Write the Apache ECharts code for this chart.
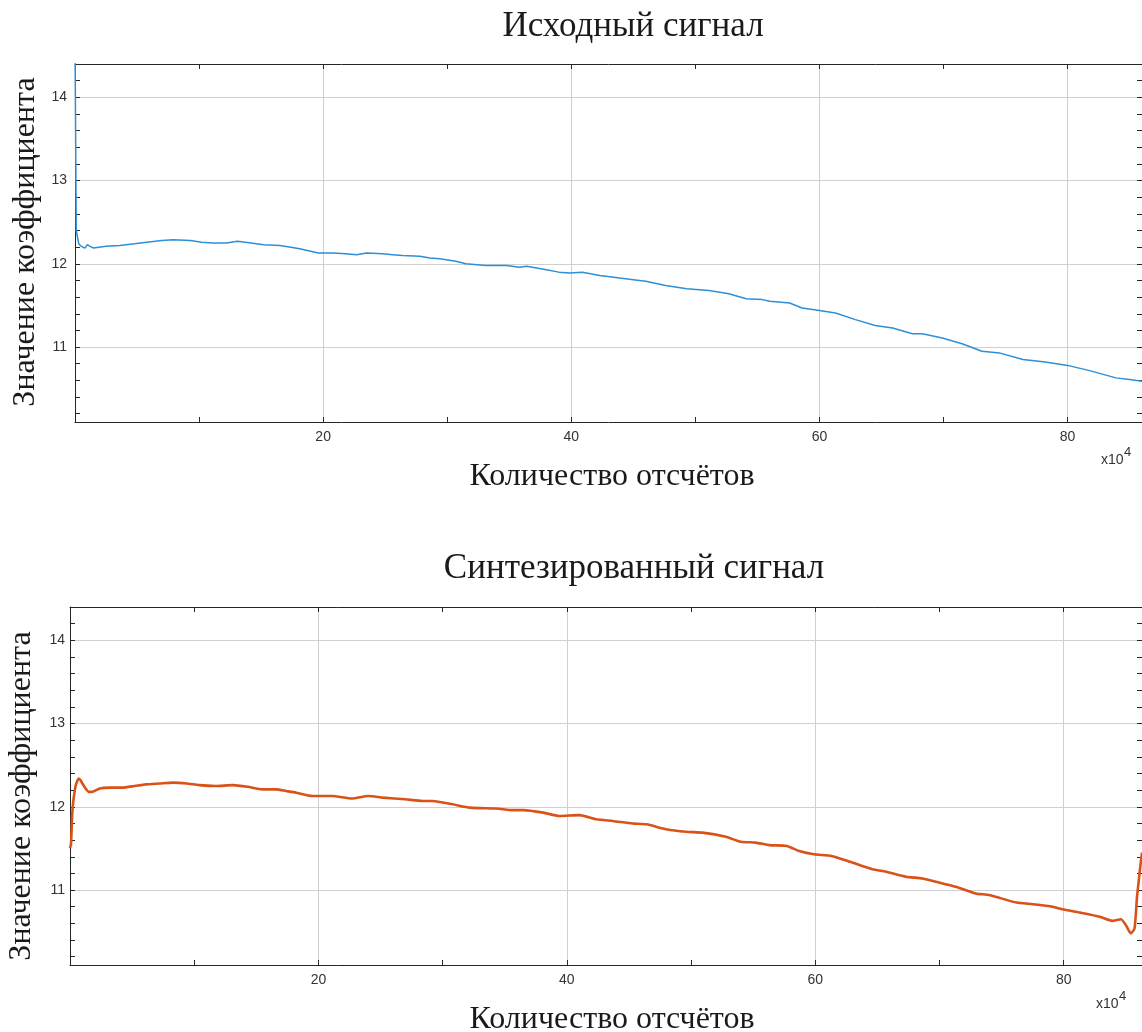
<!DOCTYPE html>
<html>
<head>
<meta charset="utf-8">
<title>Исходный и синтезированный сигнал</title>
<script src="https://cdn.jsdelivr.net/npm/echarts@6/dist/echarts.min.js"></script>
<style>
  html, body { margin: 0; padding: 0; background: #ffffff; }
  #chart { width: 1142px; height: 1032px; }
</style>
</head>
<body>
<div id="chart"></div>
<script>
// Original signal: sample index (x10^4) and coefficient value
const topX = [0, 0.1, 0.3, 0.5, 0.8, 1.0, 1.2, 1.5, 2.5, 3.6, 4.8, 5.8, 7.0, 7.9, 9.3, 10.2, 11.1, 12.2, 13.1, 14.2,
  15.2, 16.5, 17.4, 18.1, 19.0, 19.6, 20.8, 21.8, 22.7, 23.5, 24.8, 25.6, 26.4, 27.8, 28.6, 29.4, 30.7, 31.5, 33.1, 34.8,
  35.8, 36.4, 37.2, 38.0, 39.0, 39.9, 40.9, 42.3, 43.9, 45.0, 46.0, 47.6, 49.3, 51.1, 52.7, 54.1, 55.4, 56.0, 57.6, 58.6,
  60.0, 61.3, 62.9, 64.5, 65.9, 67.5, 68.3, 69.9, 71.5, 73.1, 74.5, 76.4, 78.2, 80.0, 81.7, 83.9, 85.0, 86.0];
const topY = [14.7, 12.4, 12.24, 12.21, 12.19, 12.23, 12.21, 12.19, 12.21, 12.22, 12.24, 12.26, 12.28, 12.29, 12.28, 12.26, 12.25, 12.25, 12.27, 12.25,
  12.23, 12.22, 12.20, 12.18, 12.15, 12.13, 12.13, 12.12, 12.11, 12.13, 12.12, 12.11, 12.10, 12.09, 12.07, 12.06, 12.03, 12.00, 11.98, 11.98,
  11.96, 11.97, 11.95, 11.93, 11.90, 11.89, 11.90, 11.86, 11.83, 11.81, 11.79, 11.74, 11.70, 11.68, 11.64, 11.58, 11.57, 11.55, 11.53, 11.47,
  11.44, 11.41, 11.33, 11.26, 11.23, 11.16, 11.16, 11.11, 11.04, 10.95, 10.93, 10.85, 10.82, 10.78, 10.72, 10.63, 10.61, 10.59];

// Synthesized signal
const bottomX = [0, 0.08, 0.2, 0.45, 0.7, 0.85, 1.0, 1.3, 1.5, 1.8, 2.4, 3.2, 4.2, 5.2, 6.1, 7.2, 8.3, 9.4, 10.4, 11.7,
  13.1, 14.3, 15.5, 16.6, 17.4, 18.2, 19.5, 21.1, 22.7, 24.0, 25.2, 27.0, 28.4, 29.2, 30.8, 32.2, 34.3, 35.7, 36.5, 38.1,
  39.4, 41.0, 42.4, 43.7, 45.3, 46.4, 48.0, 49.6, 50.9, 52.8, 54.0, 55.2, 56.3, 57.7, 58.7, 59.9, 61.3, 62.8, 64.6, 65.7,
  67.3, 68.6, 69.7, 71.3, 72.9, 74.0, 76.2, 77.5, 79.1, 79.9, 81.3, 82.9, 83.9, 84.6, 85.0, 85.4, 85.7, 85.9, 86.2, 86.3];
const bottomY = [11.5, 11.55, 11.96, 12.25, 12.34, 12.32, 12.28, 12.21, 12.18, 12.18, 12.22, 12.23, 12.23, 12.25, 12.27, 12.28, 12.29, 12.28, 12.26, 12.25,
  12.26, 12.24, 12.21, 12.21, 12.19, 12.17, 12.13, 12.13, 12.10, 12.13, 12.11, 12.09, 12.07, 12.07, 12.03, 11.99, 11.98, 11.96, 11.96, 11.93,
  11.89, 11.90, 11.85, 11.83, 11.80, 11.79, 11.73, 11.70, 11.69, 11.64, 11.58, 11.57, 11.54, 11.53, 11.47, 11.43, 11.41, 11.34, 11.25, 11.22,
  11.16, 11.14, 11.10, 11.04, 10.96, 10.94, 10.85, 10.83, 10.80, 10.77, 10.73, 10.68, 10.63, 10.65, 10.58, 10.48, 10.54, 10.92, 11.33, 11.45];

// Axis ticks and labels
const xTickValues = [10, 20, 30, 40, 50, 60, 70, 80];
const xLabelValues = [20, 40, 60, 80];
const yTickValues = [10.2, 10.4, 10.6, 10.8, 11, 11.2, 11.4, 11.6, 11.8, 12, 12.2, 12.4, 12.6, 12.8,
  13, 13.2, 13.4, 13.6, 13.8, 14, 14.2];
const yLabelValues = [11, 12, 13, 14];

const Y_MIN = 10.1, Y_MAX = 14.4;
const X_MAX_TOP = 86, X_MAX_BOTTOM = 86.3;

const SERIF = '"Liberation Serif", "Times New Roman", serif';
const SANS = '"Liberation Sans", Arial, sans-serif';
const AXIS_COLOR = '#262626';
const GRID_COLOR = '#d0d0d0';

function zip(xs, ys) { return xs.map((x, i) => [x, ys[i]]); }

function tickStyle(values) {
  return { show: true, inside: true, length: 5, customValues: values, lineStyle: { color: AXIS_COLOR, width: 1 } };
}

function boxLine() {
  return { show: true, onZero: false, lineStyle: { color: AXIS_COLOR, width: 1 } };
}

// three x axes and three y axes per panel: labelled side, mirrored side, grid lines
function xAxesFor(gridIndex, xMax, labelMargin) {
  return [
    { type: 'value', gridIndex, position: 'bottom', min: 0, max: xMax,
      axisLine: boxLine(),
      axisTick: tickStyle(xTickValues),
      axisLabel: { show: true, customValues: xLabelValues, margin: labelMargin, color: '#333', fontSize: 14, fontFamily: SANS },
      splitLine: { show: false } },
    { type: 'value', gridIndex, position: 'top', min: 0, max: xMax,
      axisLine: boxLine(),
      axisTick: tickStyle(xTickValues),
      axisLabel: { show: false }, splitLine: { show: false } },
    { type: 'value', gridIndex, position: 'bottom', min: 0, max: xMax,
      axisLine: { show: false, onZero: false },
      axisTick: { show: false, customValues: xLabelValues },
      axisLabel: { show: false },
      splitLine: { show: true, lineStyle: { color: GRID_COLOR, width: 1 } } }
  ];
}

function yAxesFor(gridIndex, labelMargin) {
  return [
    { type: 'value', gridIndex, position: 'left', min: Y_MIN, max: Y_MAX,
      axisLine: boxLine(),
      axisTick: tickStyle(yTickValues),
      axisLabel: { show: true, customValues: yLabelValues, margin: labelMargin, color: '#333', fontSize: 14, fontFamily: SANS },
      splitLine: { show: false } },
    { type: 'value', gridIndex, position: 'right', min: Y_MIN, max: Y_MAX,
      axisLine: boxLine(),
      axisTick: tickStyle(yTickValues),
      axisLabel: { show: false }, splitLine: { show: false } },
    { type: 'value', gridIndex, position: 'left', min: Y_MIN, max: Y_MAX,
      axisLine: { show: false, onZero: false },
      axisTick: { show: false, customValues: yLabelValues },
      axisLabel: { show: false },
      splitLine: { show: true, lineStyle: { color: GRID_COLOR, width: 1 } } }
  ];
}

function serifText(text, x, y, size, rotation) {
  return { type: 'text', x, y, rotation: rotation || 0, silent: true,
    style: { text, fill: '#1a1a1a', font: size + 'px ' + SERIF, align: 'center', verticalAlign: 'middle' } };
}

function powerLabel(x, y) {
  return [
    { type: 'text', x, y, silent: true,
      style: { text: 'x10', fill: '#333', font: '14px ' + SANS, align: 'right', verticalAlign: 'middle' } },
    { type: 'text', x: x + 0.5, y: y - 8, silent: true,
      style: { text: '4', fill: '#333', font: '13px ' + SANS, align: 'left', verticalAlign: 'middle' } }
  ];
}

const chart = echarts.init(document.getElementById('chart'), null, { renderer: 'canvas' });

chart.setOption({
  animation: false,
  backgroundColor: '#ffffff',
  grid: [
    { left: 75, top: 64, width: 1067, height: 358, containLabel: false, outerBoundsMode: 'none' },
    { left: 70, top: 607, width: 1072, height: 358, containLabel: false, outerBoundsMode: 'none' }
  ],
  xAxis: [].concat(xAxesFor(0, X_MAX_TOP, 8), xAxesFor(1, X_MAX_BOTTOM, 8)),
  yAxis: [].concat(yAxesFor(0, 8), yAxesFor(1, 5)),
  series: [
    { name: 'Исходный сигнал', type: 'line', xAxisIndex: 0, yAxisIndex: 0,
      data: zip(topX, topY), showSymbol: false, symbol: 'none', clip: true,
      lineStyle: { color: '#2d8fd6', width: 1.5 }, z: 3 },
    { name: 'Синтезированный сигнал', type: 'line', xAxisIndex: 3, yAxisIndex: 3,
      data: zip(bottomX, bottomY), showSymbol: false, symbol: 'none', clip: true, smooth: 0.2,
      lineStyle: { color: '#d95319', width: 2.6 }, z: 3 }
  ],
  graphic: [
    serifText('Исходный сигнал', 633, 27, 35),
    serifText('Количество отсчётов', 612, 477, 32),
    serifText('Значение коэффициента', 26, 242, 32, Math.PI / 2),
    serifText('Синтезированный сигнал', 634, 569, 35),
    serifText('Количество отсчётов', 612, 1020, 32),
    serifText('Значение коэффициента', 22, 796, 32, Math.PI / 2)
  ].concat(powerLabel(1123.5, 460.5), powerLabel(1118.5, 1004.5))
});
</script>
</body>
</html>
